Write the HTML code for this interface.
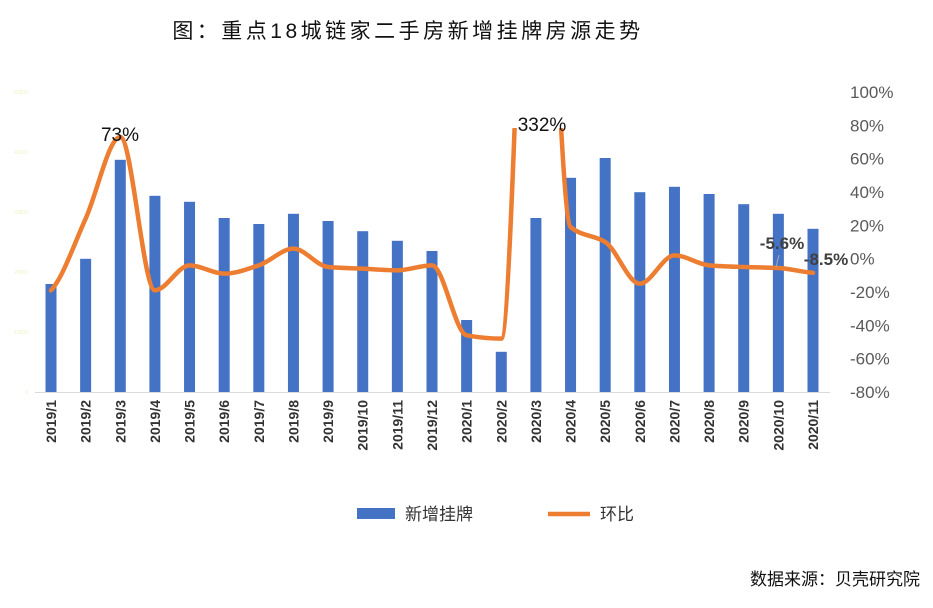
<!DOCTYPE html>
<html><head><meta charset="utf-8"><style>
html,body{margin:0;padding:0;background:#fff;}
svg{display:block;font-family:"Liberation Sans","Noto Sans CJK SC",sans-serif;}
</style></head><body>
<svg id="c" width="933" height="608">
<defs><clipPath id="pc"><rect x="0" y="128" width="933" height="300"/></clipPath></defs>
<text x="408" y="38" font-size="21" text-anchor="middle" fill="#111" letter-spacing="3.5">图：重点18城链家二手房新增挂牌房源走势</text>
<g id="bars"></g><g id="xl"></g><g id="yr"></g><g id="yl"></g>
<path id="line" fill="none" stroke="#ED7D31" stroke-width="4.5" stroke-linecap="round" clip-path="url(#pc)"/>
<text x="120" y="141" font-size="19" text-anchor="middle" fill="#111">73%</text>
<text x="542" y="131" font-size="19" text-anchor="middle" fill="#111">332%</text>
<text x="782" y="249" font-size="17" font-weight="bold" text-anchor="middle" fill="#404040">-5.6%</text>
<line x1="779" y1="255" x2="776" y2="267" stroke="#aaa"/>
<text x="826" y="265" font-size="17" font-weight="bold" text-anchor="middle" fill="#404040">-8.5%</text>
<rect x="357" y="508" width="38" height="11" fill="#4472C4"/>
<text x="405" y="520" font-size="17" fill="#333">新增挂牌</text>
<line x1="548" y1="514" x2="590" y2="514" stroke="#ED7D31" stroke-width="4.5"/>
<text x="600" y="520" font-size="17" fill="#333">环比</text>
<text x="920" y="585" font-size="17" text-anchor="end" fill="#111">数据来源：贝壳研究院</text>
</svg>
<script>
const categories=["2019/1","2019/2","2019/3","2019/4","2019/5","2019/6","2019/7","2019/8","2019/9","2019/10","2019/11","2019/12","2020/1","2020/2","2020/3","2020/4","2020/5","2020/6","2020/7","2020/8","2020/9","2020/10","2020/11"];
const listings=[18000,22200,38700,32700,31700,29000,28000,29700,28500,26800,25200,23500,12000,6700,29000,35700,39000,33300,34200,33000,31300,29700,27200];
const mom=[-19,24,73,-19,-4,-9,-4,6,-5,-6,-7,-4,-46,-48,332,19,10,-15,2,-4,-5,-5.6,-8.5];
const rightTicks=["100%","80%","60%","40%","20%","0%","-20%","-40%","-60%","-80%"];
const leftTicks=[0,10000,20000,30000,40000,50000];
const NS="http://www.w3.org/2000/svg";
function mk(t,a,p){const e=document.createElementNS(NS,t);for(const k in a)e.setAttribute(k,a[k]);p.appendChild(e);return e;}
const x0=51,step=(813-51)/22;
const xs=i=>x0+i*step;
const yL=v=>392-v/50000*300;
const yR=p=>392-(p+80)/180*300;
const bars=document.getElementById('bars');
mk('line',{x1:35,y1:392.5,x2:830,y2:392.5,stroke:'#d9d9d9','stroke-width':1},bars);
listings.forEach((v,i)=>{const r=mk('rect',{x:xs(i)-5.5,y:yL(v),width:11,height:392-yL(v),fill:'#4472C4'},bars);

});
const xl=document.getElementById('xl');
categories.forEach((c,i)=>{const t=mk('text',{x:0,y:0,'font-size':14,'font-weight':'bold','text-anchor':'end',fill:'#333',transform:`translate(${xs(i)+5},400) rotate(-90)`},xl);t.textContent=c;

});
const yr=document.getElementById('yr');
rightTicks.forEach((s,i)=>{const t=mk('text',{x:850,y:yR(100-i*20)+6,'font-size':17,fill:'#595959'},yr);t.textContent=s;

});
const yl=document.getElementById('yl');
leftTicks.forEach(v=>{const t=mk('text',{x:28,y:yL(v)+2,'font-size':5,'text-anchor':'end',fill:'#f0f0c8'},yl);t.textContent=v;

});
const pts=mom.map((p,i)=>[xs(i),yR(p)]);
const n=pts.length,dk=[],m=[];
for(let i=0;i<n-1;i++)dk.push((pts[i+1][1]-pts[i][1])/step);
for(let i=0;i<n;i++){
 if(i===0)m.push(dk[0]*0.5);else if(i===n-1)m.push(dk[n-2]*0.5);
 else{const a=dk[i-1],b=dk[i];m.push(a*b<=0?0:2*a*b/(a+b));}
}
let d=`M${pts[0][0]},${pts[0][1]}`;
for(let i=0;i<n-1;i++){const h=step/3;
d+=` C${pts[i][0]+h},${pts[i][1]+m[i]*h} ${pts[i+1][0]-h},${pts[i+1][1]-m[i+1]*h} ${pts[i+1][0]},${pts[i+1][1]}`;}
document.getElementById('line').setAttribute('d',d);
</script>
</body></html>
